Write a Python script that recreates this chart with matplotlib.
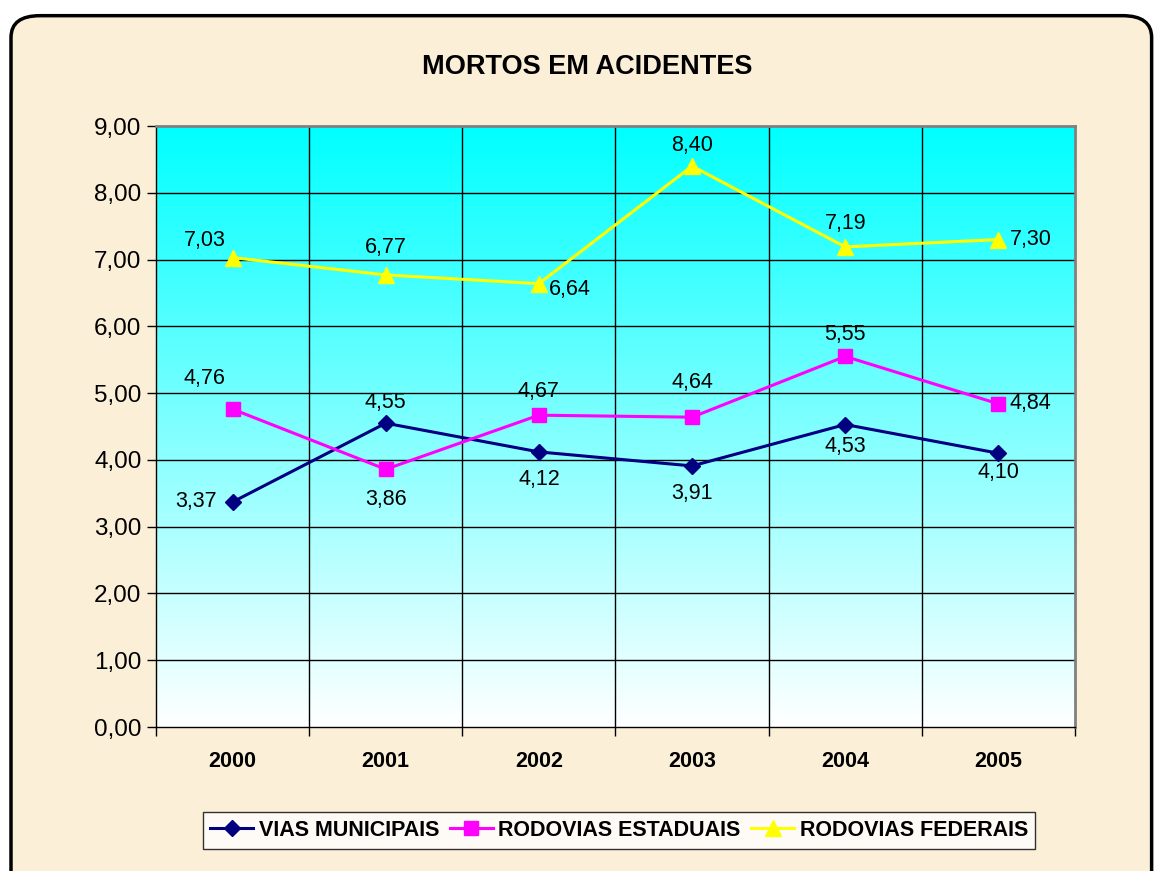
#!/usr/bin/env python3
"""Mortos em acidentes - gráfico de linhas estilo Excel"""

import numpy as np
import matplotlib.pyplot as plt
from matplotlib.patches import FancyBboxPatch
from matplotlib.ticker import FuncFormatter

plt.rcParams['font.family'] = ['Liberation Sans', 'DejaVu Sans']

# ========== dados ==========
anos = ['2000', '2001', '2002', '2003', '2004', '2005']
vias_municipais = [3.37, 4.55, 4.12, 3.91, 4.53, 4.10]
rodovias_estaduais = [4.76, 3.86, 4.67, 4.64, 5.55, 4.84]
rodovias_federais = [7.03, 6.77, 6.64, 8.40, 7.19, 7.30]

# posição dos rótulos (deslocamento em pontos)
pos_municipais = [(-26, 0), (0, 15), (0, -20), (0, -20), (0, -16), (0, -14)]
pos_estaduais = [(-20, 22), (0, -22), (0, 17), (0, 25), (0, 16), (23, 0)]
pos_federais = [(-20, 12), (0, 20), (22, -4), (0, 15), (0, 17), (23, 0)]


def fmt(v):
    return f'{v:.2f}'.replace('.', ',')


fig = plt.figure(figsize=(11.58, 8.71), dpi=100)
fig.patch.set_facecolor('white')

# fundo tipo pergaminho com borda arredondada
fundo = FancyBboxPatch((0.0095, -0.05), 0.985, 1.032,
                       boxstyle='round,pad=0,rounding_size=0.025',
                       transform=fig.transFigure, facecolor='#fbefd8',
                       edgecolor='black', linewidth=2.5, zorder=-1)
fig.patches.append(fundo)

ax = fig.add_axes([0.1347, 0.1653, 0.7936, 0.6900])
ax.set_xlim(-0.5, 5.5)
ax.set_ylim(0, 9)

# gradiente ciano -> branco
grad = np.linspace(1, 0, 256).reshape(-1, 1)
cor = np.ones((256, 1, 3))
cor[..., 0] = 1 - grad[:, :]
ax.imshow(cor, extent=[-0.5, 5.5, 0, 9], aspect='auto', zorder=0,
          interpolation='bilinear')

# grade
for y in range(1, 9):
    ax.axhline(y, color='black', linewidth=1, zorder=1)
for x in np.arange(0.5, 5.5, 1):
    ax.axvline(x, color='black', linewidth=1, zorder=1)

xs = np.arange(len(anos))
ax.plot(xs, vias_municipais, color='#000080', marker='D', markersize=8,
        linewidth=2.2, label='VIAS MUNICIPAIS', zorder=3)
ax.plot(xs, rodovias_estaduais, color='#ff00ff', marker='s', markersize=10,
        linewidth=2.2, label='RODOVIAS ESTADUAIS', zorder=3)
ax.plot(xs, rodovias_federais, color='#ffff00', marker='^', markersize=11,
        linewidth=2.2, label='RODOVIAS FEDERAIS', zorder=3)

for serie, pos in [(vias_municipais, pos_municipais),
                   (rodovias_estaduais, pos_estaduais),
                   (rodovias_federais, pos_federais)]:
    for x, v, d in zip(xs, serie, pos):
        ax.annotate(fmt(v), (x, v), xytext=d, textcoords='offset points',
                    ha='center', va='center', fontsize=15.5, zorder=4)

# eixos
ax.set_yticks(np.arange(0, 10, 1))
ax.yaxis.set_major_formatter(FuncFormatter(lambda v, p: fmt(v)))
ax.set_xticks(np.arange(-0.5, 6, 1))
ax.set_xticklabels([])
ax.set_xticks(xs, minor=True)
ax.set_xticklabels(anos, minor=True, fontweight='bold', fontsize=15.5)
ax.tick_params(axis='x', which='minor', length=0, pad=17)
ax.tick_params(axis='x', which='major', direction='out', length=6.5, width=1)
ax.tick_params(axis='y', direction='out', length=6.5, width=1,
               labelsize=17.5, pad=4)
for lado in ['top', 'right']:
    ax.spines[lado].set_color('#808080')
    ax.spines[lado].set_linewidth(2)
ax.spines['left'].set_linewidth(1)
ax.spines['bottom'].set_linewidth(1)

fig.text(0.507, 0.923, 'MORTOS EM ACIDENTES', ha='center', va='center',
         fontsize=19.5, fontweight='bold')

leg = fig.legend(loc='center', bbox_to_anchor=(0.5345, 0.0465), ncol=3,
                 frameon=True, fancybox=False, edgecolor='black',
                 prop={'weight': 'bold', 'size': 15.5},
                 handlelength=2.0, columnspacing=0.5, handletextpad=0.25,
                 borderpad=0.35, borderaxespad=0)
leg.get_frame().set_linewidth(1)
leg.get_frame().set_facecolor('white')

fig.savefig('out.png', dpi=100, facecolor=fig.get_facecolor())
